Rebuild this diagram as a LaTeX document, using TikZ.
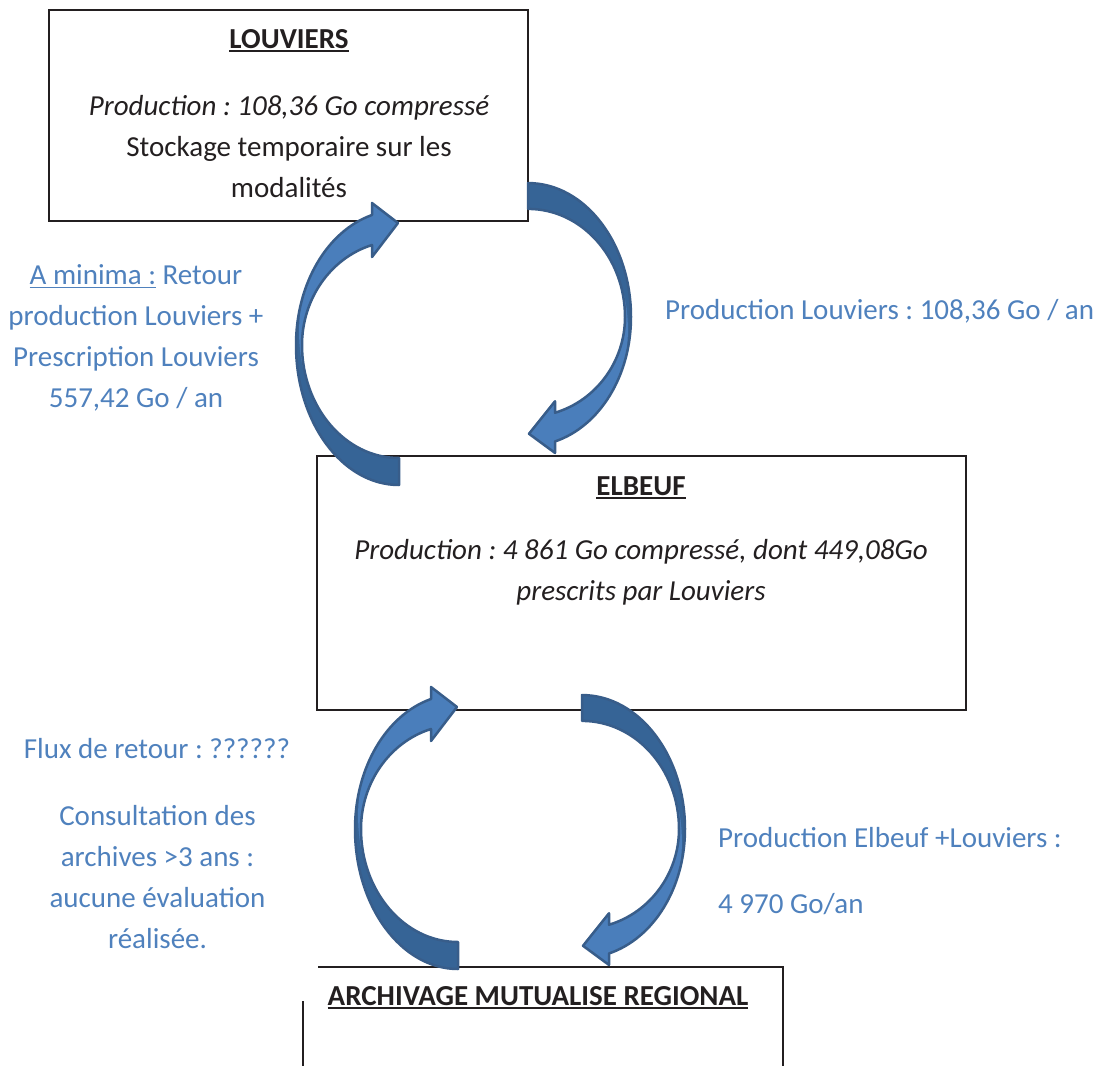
\documentclass[tikz,border=0pt]{standalone}
\usepackage{fontspec}
\setmainfont{Carlito}
\usetikzlibrary{calc, positioning}

\definecolor{labelblue}{RGB}{79,129,189}
\definecolor{arrowlight}{RGB}{74,126,187}
\definecolor{arrowdark}{RGB}{54,100,150}
\definecolor{arrowedge}{RGB}{56,93,138}
\definecolor{boxtext}{RGB}{35,31,32}

\frenchspacing
\newcommand{\ulined}[1]{\leavevmode\setbox0=\hbox{#1}\rlap{\rule[-3.5pt]{\wd0}{1.8pt}}\box0\relax}
\newcommand{\cyclepath}{(0,141) .. controls (-57,141) and (-103,78) .. (-103,1)
  .. controls (-103,-60) and (-72,-113) .. (-27,-129)
  -- (-27,-141) -- (-1,-121) -- (-27,-87) -- (-27,-99)
  .. controls (-68.5,-86) and (-97,-45) .. (-97,1)
  .. controls (-97,63) and (-54,114) .. (0,114) -- cycle}

\tikzset{
  box/.style={draw=boxtext, line width=1.8pt, inner sep=0pt},
  boxlabel/.style={text=boxtext, inner sep=0pt, anchor=base},
  bluelabel/.style={text=labelblue, inner sep=0pt, anchor=base},
  cyclearrow/.pic={
    \fill[arrowdark] \cyclepath;
    \begin{scope}
      \clip \cyclepath;
      \fill[arrowlight] (-200,-45) -- (-96.8,-45) .. controls (-103,-15) and (-99,20) .. (-93,33)
        -- (50,33) -- (50,-200) -- (-200,-200) -- cycle;
    \end{scope}
    \draw[arrowedge, line width=2.5pt, line join=round] \cyclepath;
  }
}

\begin{document}
\begin{tikzpicture}[x=1pt,y=-1pt,font=\fontsize{29}{40.7}\selectfont]
\useasboundingbox (0,0) rectangle (1101,1066);

\coordinate (TL) at (399,344);
\coordinate (TR) at (528,318);
\coordinate (BL) at (458,828);
\coordinate (BR) at (582,830);

% boxes
\node[box, minimum width=479pt, minimum height=211pt] (louviers) at (288.5,115.5) {};
\node[box, minimum width=649pt, minimum height=254pt] (elbeuf) at (641.5,583) {};
\draw[boxtext, line width=1.8pt] (318,967) -- (783,967) -- (783,1066);
\draw[boxtext, line width=1.8pt] (303,1001) -- (303,1066);

% base of a multi-line label = its last line
\node[boxlabel] (lvtitle) at (289,48) {\ulined{\textbf{LOUVIERS}}};
\node[boxlabel, align=center] (lvtext) at (289,197)
  {\textit{Production : 108,36 Go compressé}\\Stockage temporaire sur les\\modalités};
\node[boxlabel] (elbtitle) at (641,495) {\ulined{\textbf{ELBEUF}}};
\node[boxlabel, align=center] (elbtext) at (641,600)
  {\textit{Production : 4 861 Go compressé, dont 449,08Go}\\\textit{prescrits par Louviers}};
\node[boxlabel] (regtitle) at (538,1005) {\ulined{\textbf{ARCHIVAGE MUTUALISE REGIONAL}}};

% arrows
\pic at (TL) {cyclearrow};
\pic[rotate=180, yscale=0.957] at (TR) {cyclearrow};
\pic at (BL) {cyclearrow};
\pic[rotate=180, yscale=0.957] at (BR) {cyclearrow};

% flows
\node[bluelabel, align=center] (retour) at (136,407)
  {\ulined{A minima :} Retour\\production Louviers +\\Prescription Louviers\\557,42 Go / an};
\node[bluelabel, anchor=base west] (prodlv) at (665,319) {Production Louviers : 108,36 Go / an};
\node[bluelabel] (flux) at (157,758) {Flux de retour : ??????};
\node[bluelabel, align=center] (consult) at (157.5,948)
  {Consultation des\\archives >3 ans :\\aucune évaluation\\réalisée.};
\node[bluelabel, anchor=base west] (prodelb) at (718,847) {Production Elbeuf +Louviers :};
\node[bluelabel, anchor=base west] (volelb) at (718,913) {4 970 Go/an};
\end{tikzpicture}
\end{document}
